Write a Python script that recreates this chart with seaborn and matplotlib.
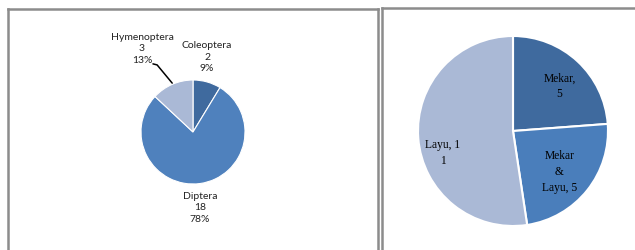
import matplotlib
matplotlib.use("Agg")
import matplotlib.pyplot as plt
import seaborn as sns

# Data
insect_orders = ["Coleoptera", "Diptera", "Hymenoptera"]
insect_counts = [2, 18, 3]
insect_colors = ["#3F6A9E", "#4F81BD", "#AAB9D6"]

flower_states = ["Mekar", "Mekar & Layu", "Layu"]
flower_counts = [5, 5, 11]
flower_colors = ["#3F6A9E", "#4A7EBB", "#AAB9D6"]

sns.set_theme(style="white")
plt.rcParams["font.family"] = ["Lato", "DejaVu Sans"]

W, H = 635, 250
fig = plt.figure(figsize=(W / 100, H / 100), dpi=100)
fig.patch.set_facecolor("white")


def px_axes(x0, y0, x1, y1):
    # axes from pixel box (top-left origin)
    return fig.add_axes([x0 / W, 1 - y1 / H, (x1 - x0) / W, (y1 - y0) / H])


def panel(x0, y0, x1):
    ax = px_axes(x0, y0, x1, H + 20)
    ax.set_xticks([])
    ax.set_yticks([])
    ax.patch.set_alpha(0)
    for side, sp in ax.spines.items():
        sp.set_visible(side != "bottom")
        sp.set_color("#8C8C8C")
        sp.set_linewidth(1.8)
    return ax


panel(8, 9, 378)
panel(382, 8, 660)

# Left pie
cx, cy, r = 193, 132, 52
ax1 = px_axes(cx - r, cy - r, cx + r, cy + r)
ax1.pie(insect_counts, colors=insect_colors, startangle=90, counterclock=False,
        wedgeprops=dict(edgecolor="white", linewidth=0.8))
ax1.set_xlim(-1, 1)
ax1.set_ylim(-1, 1)
ax1.axis("off")

total = sum(insect_counts)
label_pos = {"Coleoptera": (0.27, 1.44), "Diptera": (0.13, -1.46), "Hymenoptera": (-0.98, 1.6)}
for name, n in zip(insect_orders, insect_counts):
    x, y = label_pos[name]
    ax1.text(x, y, f"{name}\n{n}\n{round(100 * n / total)}%", ha="center", va="center",
             fontsize=7.5, linespacing=1.35, color="#222222", clip_on=False)
ax1.plot([-0.77, -0.69, -0.40], [1.31, 1.29, 0.94], color="black", lw=1.1, clip_on=False)

# Right pie
cx, cy, r = 513, 131, 95
ax2 = px_axes(cx - r, cy - r, cx + r, cy + r)
ax2.pie(flower_counts, colors=flower_colors, startangle=90, counterclock=False,
        wedgeprops=dict(edgecolor="white", linewidth=1.5))
ax2.set_xlim(-1, 1)
ax2.set_ylim(-1, 1)
ax2.axis("off")

serif = ["Liberation Serif", "DejaVu Serif"]
layu_n = str(flower_counts[2])
right_labels = [
    (f"{flower_states[0]},\n{flower_counts[0]}", (0.49, 0.47)),
    (f"Mekar\n&\nLayu, {flower_counts[1]}", (0.49, -0.43)),
    (f"{flower_states[2]}, {layu_n[0]}\n{layu_n[1:]}", (-0.74, -0.23)),
]
for txt, (x, y) in right_labels:
    ax2.text(x, y, txt, ha="center", va="center", fontsize=8.3, linespacing=1.45,
             family=serif, color="black")

fig.savefig("out.png", dpi=100)
